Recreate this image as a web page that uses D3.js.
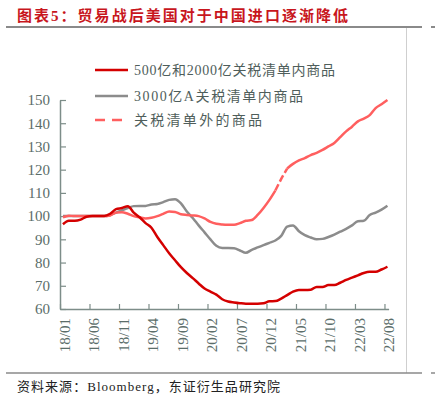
<!DOCTYPE html>
<html>
<head>
<meta charset="utf-8">
<script src="https://cdn.jsdelivr.net/npm/d3@7/dist/d3.min.js"></script>
<style>
  body { margin: 0; background: #fff; }
  svg { display: block; }
</style>
</head>
<body>
<svg id="chart" width="435" height="399"></svg>
<script>
// monthly index 18/01 .. 22/08
var xTickLabels = ["18/01","18/06","18/11","19/04","19/09","20/02","20/07","20/12","21/05","21/10","22/03","22/08"];
var yTicks = [60, 70, 80, 90, 100, 110, 120, 130, 140, 150];

var seriesNames = ["500亿和2000亿关税清单内商品", "3000亿A关税清单内商品", "关税清单外的商品"];

var listA = [96.5, 98, 98, 98.5, 99.7, 100, 100, 100, 101, 103,
             103.5, 104.3, 101.5, 99.5, 97, 95, 91, 87.5, 84, 81,
             78, 75.5, 73.3, 71, 68.8, 67.5, 66.2, 64.2, 63.2, 62.8,
             62.5, 62.3, 62.3, 62.3, 62.5, 63.3, 63.4, 64.5, 66, 67.5,
             68.2, 68.2, 68.3, 69.5, 69.5, 70.3, 70.3, 71.3, 72.5, 73.5,
             74.5, 75.5, 76, 76, 77, 78.2];

var list3000A = [100, 100, 100, 100, 100, 100, 100, 100, 100.5, 101.5,
                 102.5, 103.5, 104.3, 104.4, 104.4, 105, 105.2, 106, 107, 107.3,
                 105.5, 102, 99.2, 96, 93, 90, 87.2, 86.3, 86.3, 86.2,
                 85.2, 84.2, 85.5, 86.5, 87.5, 88.5, 89.5, 91.5, 95.5, 96,
                 93.5, 91.8, 90.8, 90, 90.2, 91, 92, 93.3, 94.5, 96,
                 97.8, 98, 100.5, 101.5, 102.8, 104.5];

var outside = [99.5, 100.2, 100, 100, 100, 100, 100, 100, 100.3, 101.5,
               101.7, 101, 100, 99.5, 99, 99.3, 100, 101, 102, 101.8,
               100.8, 100.5, 100.3, 100, 99, 97.5, 96.7, 96.4, 96.3, 96.3,
               97, 98, 98.3, 100.5, 103.5, 107, 111, 116, 120.5, 122.5,
               124, 125, 126.3, 127.2, 128.5, 130, 131.5, 134, 136.5, 138.5,
               140.8, 142, 143.5, 146.5, 148.2, 150];

// dashed stretch of the outside-list line (index range)
var dashFrom = 36, dashTo = 38;

var svg = d3.select("#chart");
var serif = "'Liberation Serif', 'Noto Sans CJK SC', serif";
var labelColor = "#5b6d69";
var axisColor = "#7d8d89";

// title + frame
svg.append("text")
   .attr("x", 17).attr("y", 21)
   .attr("font-family", serif)
   .attr("font-size", "15px")
   .attr("font-weight", "bold")
   .attr("fill", "#c8161d")
   .attr("textLength", 331)
   .attr("lengthAdjust", "spacing")
   .text("图表5：贸易战后美国对于中国进口逐渐降低");

svg.append("line").attr("x1", 6).attr("x2", 422).attr("y1", 27).attr("y2", 27)
   .attr("stroke", "#8a8a8a").attr("stroke-width", 2);
svg.append("line").attr("x1", 431).attr("x2", 435).attr("y1", 27).attr("y2", 27)
   .attr("stroke", "#8a8a8a").attr("stroke-width", 2);
svg.append("line").attr("x1", 406.5).attr("x2", 406.5).attr("y1", 28).attr("y2", 373)
   .attr("stroke", "#cfcfcf").attr("stroke-width", 1);
svg.append("line").attr("x1", 6).attr("x2", 422).attr("y1", 373).attr("y2", 373)
   .attr("stroke", "#8a8a8a").attr("stroke-width", 1.5);
svg.append("line").attr("x1", 431).attr("x2", 435).attr("y1", 373).attr("y2", 373)
   .attr("stroke", "#8a8a8a").attr("stroke-width", 1.5);

svg.append("text")
   .attr("x", 17).attr("y", 391)
   .attr("font-family", serif)
   .attr("font-size", "13px")
   .attr("fill", "#222")
   .attr("textLength", 263)
   .attr("lengthAdjust", "spacing")
   .text("资料来源：Bloomberg，东证衍生品研究院");

// scales
var x = d3.scaleLinear().domain([0, 55.7]).range([60, 388.6]);
var y = d3.scaleLinear().domain([60, 150]).range([309, 100]);

// y axis
var yAxis = svg.append("g")
   .attr("transform", "translate(60,0)")
   .call(d3.axisLeft(y).tickValues(yTicks).tickSize(-6).tickSizeOuter(0).tickPadding(10));
yAxis.selectAll("text")
   .attr("font-family", serif)
   .attr("font-size", "15px")
   .attr("fill", labelColor);

// x axis
var xAxis = svg.append("g")
   .attr("transform", "translate(0,309)")
   .call(d3.axisBottom(x)
           .tickValues(d3.range(xTickLabels.length).map(function(i) { return i * 5; }))
           .tickFormat(function(d, i) { return xTickLabels[i]; })
           .tickSize(-5).tickSizeOuter(0));
xAxis.selectAll("text")
   .attr("transform", "rotate(-90)")
   .attr("text-anchor", "end")
   .attr("x", -9)
   .attr("y", 4)
   .attr("dy", "0.35em")
   .attr("font-family", serif)
   .attr("font-size", "15px")
   .attr("fill", labelColor);

svg.selectAll(".domain").attr("stroke", axisColor).attr("stroke-width", 1.5);
svg.selectAll(".tick line").attr("stroke", axisColor).attr("stroke-width", 1.2);

// lines (plotted at middle of each month)
var line = d3.line()
   .x(function(d) { return x(d.i + 0.5); })
   .y(function(d) { return y(d.v); })
   .curve(d3.curveMonotoneX);

function pts(arr) {
    return arr.map(function(v, i) { return { i: i, v: v }; });
}

var pinkPts = pts(outside);

svg.append("path").datum(pts(list3000A))
   .attr("d", line).attr("fill", "none")
   .attr("stroke", "#8c8c8c").attr("stroke-width", 2.5);

svg.append("path").datum(pinkPts.slice(0, dashFrom + 1))
   .attr("d", line).attr("fill", "none")
   .attr("stroke", "#ff5f5f").attr("stroke-width", 2.5);
svg.append("path").datum(pinkPts.slice(dashFrom, dashTo + 1))
   .attr("d", line).attr("fill", "none")
   .attr("stroke", "#ff5f5f").attr("stroke-width", 2.5)
   .attr("stroke-dasharray", "7,3");
svg.append("path").datum(pinkPts.slice(dashTo))
   .attr("d", line).attr("fill", "none")
   .attr("stroke", "#ff5f5f").attr("stroke-width", 2.5);

svg.append("path").datum(pts(listA))
   .attr("d", line).attr("fill", "none")
   .attr("stroke", "#d40000").attr("stroke-width", 2.5);

// legend
var legend = [
    { name: seriesNames[0], color: "#d40000", dash: null, y: 70, len: 201 },
    { name: seriesNames[1], color: "#8c8c8c", dash: null, y: 96, len: 169 },
    { name: seriesNames[2], color: "#ff5f5f", dash: "10,7", y: 120, len: 128 }
];
var lg = svg.selectAll(".lg").data(legend).enter().append("g").attr("class", "lg");
lg.append("line")
  .attr("x1", 95).attr("x2", function(d) { return d.dash ? 122 : 128; })
  .attr("y1", function(d) { return d.y; }).attr("y2", function(d) { return d.y; })
  .attr("stroke", function(d) { return d.color; })
  .attr("stroke-width", 2.5)
  .attr("stroke-dasharray", function(d) { return d.dash; });
lg.append("text")
  .attr("x", 134).attr("y", function(d) { return d.y; })
  .attr("dy", "0.35em")
  .attr("font-family", serif)
  .attr("font-size", "14px")
  .attr("fill", "#4f5e5b")
  .attr("textLength", function(d) { return d.len; })
  .attr("lengthAdjust", "spacing")
  .text(function(d) { return d.name; });
</script>
</body>
</html>
